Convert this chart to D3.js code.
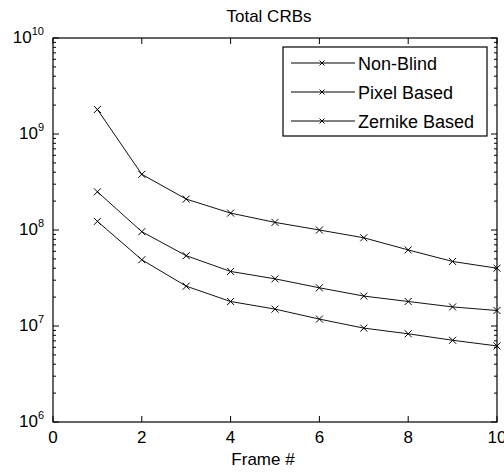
<!DOCTYPE html>
<html>
<head>
<meta charset="utf-8">
<script src="https://cdn.jsdelivr.net/npm/d3@7"></script>
<style>
  body { margin: 0; background: #fff; }
  text { font-family: "Liberation Sans", Arial, sans-serif; fill: #000; }
</style>
</head>
<body>
<div id="chart"></div>
<script>
// frames and the three CRB series
const frames = [1, 2, 3, 4, 5, 6, 7, 8, 9, 10];
const nonBlind = [1.8e9, 3.8e8, 2.1e8, 1.5e8, 1.2e8, 1.0e8, 8.3e7, 6.2e7, 4.7e7, 4.0e7];
const pixelBased = [2.5e8, 9.6e7, 5.4e7, 3.7e7, 3.1e7, 2.5e7, 2.05e7, 1.8e7, 1.58e7, 1.45e7];
const zernikeBased = [1.23e8, 4.9e7, 2.6e7, 1.8e7, 1.5e7, 1.18e7, 9.5e6, 8.3e6, 7.1e6, 6.2e6];
const seriesNames = ["Non-Blind", "Pixel Based", "Zernike Based"];
const xTicks = [0, 2, 4, 6, 8, 10];
const yExponents = [6, 7, 8, 9, 10];

const width = 504, height = 473;
const margin = { top: 38, right: 7, bottom: 51, left: 53 };
const w = width - margin.left - margin.right;
const h = height - margin.top - margin.bottom;

const svg = d3.select("#chart").append("svg")
    .attr("width", width)
    .attr("height", height);

const g = svg.append("g")
    .attr("transform", `translate(${margin.left},${margin.top})`);

const x = d3.scaleLinear().domain([0, 10]).range([0, w]);
const y = d3.scaleLog().domain([1e6, 1e10]).range([h, 0]);

// minor log ticks, left and right, inside
const minor = [];
yExponents.slice(0, -1).forEach(e => {
    for (let k = 2; k <= 9; k++) minor.push(k * Math.pow(10, e));
});
g.selectAll(".minorL").data(minor).enter().append("line")
    .attr("x1", 0).attr("x2", 3)
    .attr("y1", d => y(d)).attr("y2", d => y(d))
    .attr("stroke", "#000").attr("stroke-width", 1);
g.selectAll(".minorR").data(minor).enter().append("line")
    .attr("x1", w).attr("x2", w - 3)
    .attr("y1", d => y(d)).attr("y2", d => y(d))
    .attr("stroke", "#000").attr("stroke-width", 1);

// major y ticks
const majors = yExponents.map(e => Math.pow(10, e));
g.selectAll(".majL").data(majors).enter().append("line")
    .attr("x1", 0).attr("x2", 6)
    .attr("y1", d => y(d)).attr("y2", d => y(d))
    .attr("stroke", "#000");
g.selectAll(".majR").data(majors).enter().append("line")
    .attr("x1", w).attr("x2", w - 6)
    .attr("y1", d => y(d)).attr("y2", d => y(d))
    .attr("stroke", "#000");

// x ticks top and bottom
g.selectAll(".xb").data(xTicks).enter().append("line")
    .attr("x1", d => x(d)).attr("x2", d => x(d))
    .attr("y1", h).attr("y2", h - 6)
    .attr("stroke", "#000");
g.selectAll(".xt").data(xTicks).enter().append("line")
    .attr("x1", d => x(d)).attr("x2", d => x(d))
    .attr("y1", 0).attr("y2", 6)
    .attr("stroke", "#000");

// frame
g.append("rect")
    .attr("width", w).attr("height", h)
    .attr("fill", "none").attr("stroke", "#000").attr("stroke-width", 1.2);

// x labels
g.selectAll(".xl").data(xTicks).enter().append("text")
    .attr("x", d => x(d)).attr("y", h + 21)
    .attr("text-anchor", "middle")
    .attr("font-size", 17)
    .text(d => d);

// y labels: 10 with superscript exponent
yExponents.forEach(e => {
    const t = g.append("text")
        .attr("x", -9).attr("y", y(Math.pow(10, e)) + 5)
        .attr("text-anchor", "end")
        .attr("font-size", 17);
    t.append("tspan").text("10");
    t.append("tspan").attr("dy", -8).attr("font-size", 11).text(e);
});

// title and x-axis title
svg.append("text")
    .attr("x", 269).attr("y", 22)
    .attr("text-anchor", "middle").attr("font-size", 17)
    .text("Total CRBs");
svg.append("text")
    .attr("x", 263).attr("y", 465)
    .attr("text-anchor", "middle").attr("font-size", 17)
    .text("Frame #");

// series
const allSeries = [nonBlind, pixelBased, zernikeBased];
const line = d3.line()
    .x((d, i) => x(frames[i]))
    .y(d => y(d));

function cross(sel, s) {
    sel.append("path")
        .attr("d", `M${-s},${-s}L${s},${s}M${-s},${s}L${s},${-s}`)
        .attr("stroke", "#000").attr("stroke-width", 1).attr("fill", "none");
}

allSeries.forEach(vals => {
    g.append("path")
        .datum(vals)
        .attr("d", line)
        .attr("fill", "none")
        .attr("stroke", "#111")
        .attr("stroke-width", 1);
    g.selectAll(null).data(vals).enter().append("g")
        .attr("transform", (d, i) => `translate(${x(frames[i])},${y(d)})`)
        .each(function () { cross(d3.select(this), 3.5); });
});

// legend
const lg = svg.append("g").attr("transform", "translate(283,47)");
lg.append("rect")
    .attr("width", 204).attr("height", 89)
    .attr("fill", "#fff").attr("stroke", "#000").attr("stroke-width", 1.2);
seriesNames.forEach((name, i) => {
    const yy = 16 + i * 29;
    lg.append("line")
        .attr("x1", 8).attr("x2", 72).attr("y1", yy).attr("y2", yy)
        .attr("stroke", "#000");
    const m = lg.append("g").attr("transform", `translate(39,${yy})`);
    cross(m, 2.5);
    lg.append("text")
        .attr("x", 75).attr("y", yy + 7)
        .attr("font-size", 18)
        .text(name);
});
</script>
</body>
</html>
